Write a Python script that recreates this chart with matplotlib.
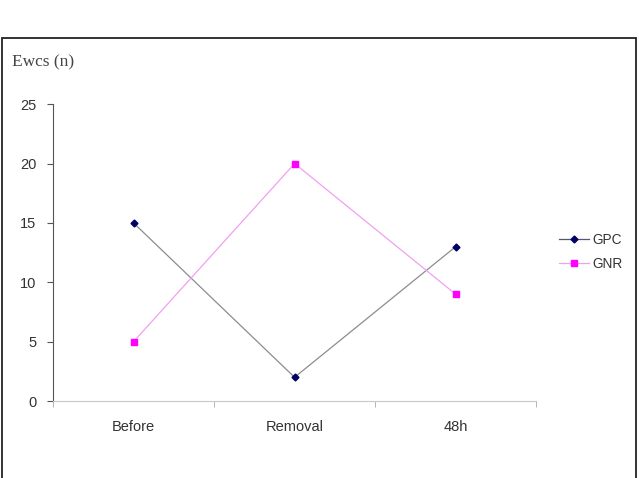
import matplotlib
matplotlib.use("Agg")
import matplotlib.pyplot as plt
from matplotlib.patches import Rectangle
from matplotlib.lines import Line2D

categories = ["Before", "Removal", "48h"]
gpc = [15, 2, 13]
gnr = [5, 20, 9]
yticks = [0, 5, 10, 15, 20, 25]

fig = plt.figure(figsize=(6.39, 4.78), dpi=100)
fig.patch.set_facecolor("white")

# outer frame
fig.patches.append(Rectangle((0.003, -0.05), 0.992, 0.97, transform=fig.transFigure,
                             fill=False, edgecolor="#222222", linewidth=1.3))

ax = fig.add_axes([0.083, 0.161, 0.756, 0.621])
x = list(range(len(categories)))
ax.plot(x, gpc, color="#8c8c8c", linewidth=0.9, marker="D", markersize=3.5,
        markerfacecolor="#000066", markeredgecolor="#000066", label="GPC")
ax.plot(x, gnr, color="#f0a0f0", linewidth=0.9, marker="s", markersize=4,
        markerfacecolor="#ff00ff", markeredgecolor="#ff00ff", label="GNR")

ax.set_xlim(-0.5, len(categories) - 0.5)
ax.set_ylim(0, 25)
ax.set_yticks(yticks)
ax.set_xticks(x)
ax.set_xticklabels(categories)
ax.set_xticks([-0.5, 0.5, 1.5, 2.5], minor=True)
ax.tick_params(axis="x", which="major", length=0, pad=14)
ax.tick_params(axis="x", which="minor", length=4, color="#aaaaaa", direction="out")
ax.tick_params(axis="y", length=4, color="#555555", pad=8)
for lab in ax.get_xticklabels() + ax.get_yticklabels():
    lab.set_family("Liberation Sans")
    lab.set_fontsize(10.5)
    lab.set_color("#333333")

for s in ["top", "right"]:
    ax.spines[s].set_visible(False)
ax.spines["left"].set_color("#555555")
ax.spines["bottom"].set_color("#c8c8c8")

fig.text(0.019, 0.87, "Ewcs (n)", family="Liberation Serif", fontsize=12.5,
         color="#444444", ha="left", va="center")

handles = [Line2D([], [], color="#555577", linewidth=0.9, marker="D", markersize=3.5,
                  markerfacecolor="#000066", markeredgecolor="#000066"),
           Line2D([], [], color="#f0a0f0", linewidth=0.9, marker="s", markersize=4,
                  markerfacecolor="#ff00ff", markeredgecolor="#ff00ff")]
leg = fig.legend(handles, ["GPC", "GNR"], loc="center left",
                 bbox_to_anchor=(0.855, 0.473), frameon=False,
                 prop={"family": "Liberation Sans", "size": 9.8},
                 handlelength=2.2, handletextpad=0.3, labelspacing=0.75)
for t in leg.get_texts():
    t.set_color("#333333")

fig.savefig("out.png", dpi=100, facecolor="white")
